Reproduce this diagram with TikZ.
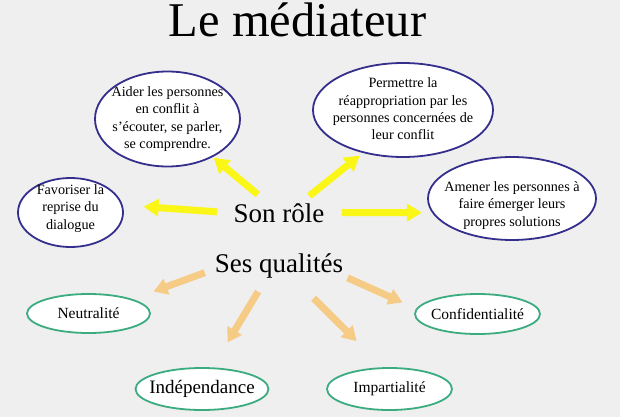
\documentclass[tikz,border=0pt]{standalone}
\usepackage{fontspec}
\setmainfont{Liberation Serif}
\usetikzlibrary{shapes.geometric,arrows.meta}

\definecolor{bgGray}{RGB}{239,239,239}
\definecolor{roleBlue}{RGB}{52,46,140}
\definecolor{qualGreen}{RGB}{58,172,128}
\definecolor{roleYellow}{RGB}{250,246,24}
\definecolor{qualOrange}{RGB}{245,203,134}

\begin{document}
\begin{tikzpicture}[
        x=1pt, y=-1pt,
        roleBubble/.style={
            ellipse, draw = roleBlue, line width = 1.8pt, fill = white, inner sep = 0pt
        },
        qualBubble/.style={
            ellipse, draw = qualGreen, line width = 1.8pt, fill = white, inner sep = 0pt
        },
        bubbleText/.style={align = center, font = \fontsize{14.2}{17.3}\selectfont},
        qualText/.style={font = \fontsize{15.5}{18}\selectfont},
        heading/.style={anchor = base, font = \fontsize{27}{32}\selectfont},
        roleArrow/.style={draw = roleYellow, line width = 7pt, -{Triangle[width=17pt,length=15pt]}},
        qualArrow/.style={draw = qualOrange, line width = 7pt, -{Triangle[width=16pt,length=14pt]}},
    ]
    \useasboundingbox (0,0) rectangle (620,417);
    \fill[bgGray] (0,0) rectangle (620,417);

    \node (title) [anchor=base, font=\fontsize{48.5}{58}\selectfont] at (297.5,37) {Le médiateur};

    \node (role) [heading] at (279,222) {Son rôle};
    \node (qual) [heading] at (279,272) {Ses qualités};

    \node (aider) [roleBubble, minimum width=145pt, minimum height=95pt,
        label={[bubbleText, yshift=0pt]center:{Aider les personnes\\en conflit à\\s’écouter, se parler,\\se comprendre.}}] at (167.5,119) {};
    \node (favoriser) [roleBubble, minimum width=105pt, minimum height=69pt,
        label={[bubbleText, yshift=4pt]center:{Favoriser la\\reprise du\\dialogue}}] at (70.5,212.5) {};
    \node (permettre) [roleBubble, minimum width=180pt, minimum height=94pt,
        label={[bubbleText, yshift=1pt]center:{Permettre la\\réappropriation par les\\personnes concernées de\\leur conflit}}] at (403,110) {};
    \node (amener) [roleBubble, minimum width=168pt, minimum height=83pt,
        label={[bubbleText, yshift=-7pt]center:{Amener les personnes à\\faire émerger leurs\\propres solutions}}] at (512,198.5) {};

    \node (neutral) [qualBubble, minimum width=123pt, minimum height=39pt,
        label={[qualText]center:Neutralité}] at (88.5,313.5) {};
    \node (confid) [qualBubble, minimum width=125pt, minimum height=40pt,
        label={[qualText]center:Confidentialité}] at (477.5,314) {};
    \node (indep) [qualBubble, minimum width=133pt, minimum height=42pt,
        label={[font=\fontsize{19}{22}\selectfont]center:Indépendance}] at (202,389) {};
    \node (impart) [qualBubble, minimum width=125pt, minimum height=42pt,
        label={[qualText]center:Impartialité}] at (389.5,389) {};

    \path (role.139) edge[roleArrow, shorten <=8pt, shorten >=1pt] (aider.320);
    \path (role.27) edge[roleArrow, shorten <=6pt, shorten >=4pt] (permettre.227);
    \path (role.180) edge[roleArrow, shorten <=13pt, shorten >=21pt] (favoriser.8);
    \path (role.0) edge[roleArrow, shorten <=14pt, shorten >=10pt] (amener.190);

    \path (qual.184) edge[qualArrow, shorten <=7pt, shorten >=22pt] (neutral.18);
    \path (qual.227) edge[qualArrow, shorten <=12pt, shorten >=29pt] (indep.64);
    \path (qual.318) edge[qualArrow, shorten <=24pt, shorten >=37pt] (impart.107);
    \path (qual.350) edge[qualArrow, shorten <=1pt, shorten >=15pt] (confid.175);

    \end{tikzpicture}
\end{document}
